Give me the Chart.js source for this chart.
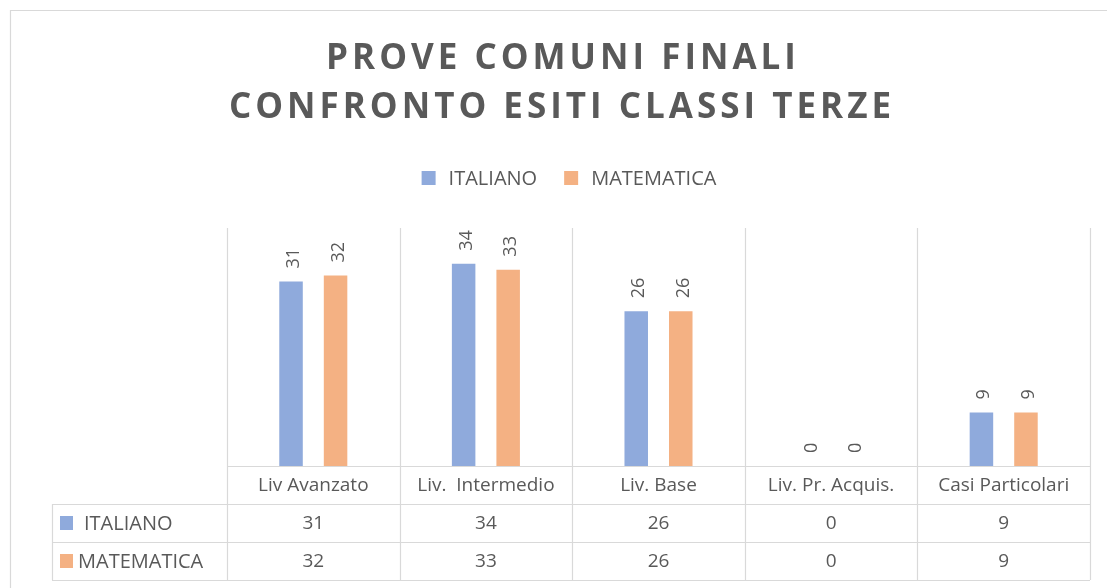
<!DOCTYPE html>
<html>
<head>
<meta charset="utf-8">
<script src="https://cdn.jsdelivr.net/npm/chart.js@4"></script>
<style>
  html, body { margin: 0; padding: 0; background: #ffffff; }
  #wrap { width: 1107px; height: 588px; position: relative; }
</style>
</head>
<body>
<div id="wrap"><canvas id="chart" width="1107" height="588"></canvas></div>
<script>
/* ---- dati ---- */
var categories = ['Liv Avanzato', 'Liv.  Intermedio', 'Liv. Base', 'Liv. Pr. Acquis.', 'Casi Particolari'];
var italiano = [31, 34, 26, 0, 9];
var matematica = [32, 33, 26, 0, 9];
var seriesNames = ['ITALIANO', 'MATEMATICA'];
var titleLines = ['PROVE COMUNI FINALI', 'CONFRONTO ESITI CLASSI TERZE'];
var yMax = 40;

(function() {
    'use strict';

    var TEXT = '#595959';
    var LINE = '#d9d9d9';
    var FONT = "'Open Sans', 'Noto Sans', sans-serif";
    var ROW_H = 38;   // altezza righe tabella dati
    var TABLE_LEFT = 52;

    /* ---- griglia + tabella dati sotto il grafico ---- */
    var tablePlugin = {
        id: 'dataTable',
        beforeDatasetsDraw: function(chart) {
            var ctx = chart.ctx;
            var area = chart.chartArea;
            var x = chart.scales.x;
            var step = (area.right - area.left) / categories.length;
            var bottom = area.bottom + ROW_H * 3;

            ctx.save();
            ctx.strokeStyle = LINE;
            ctx.lineWidth = 1.2;

            // bordo esterno del grafico
            ctx.beginPath();
            ctx.moveTo(10.5, 600);
            ctx.lineTo(10.5, 10.5);
            ctx.lineTo(1120, 10.5);
            ctx.stroke();

            // separatori verticali tra categorie
            ctx.beginPath();
            for (var i = 0; i <= categories.length; i++) {
                var bx = Math.round(area.left + step * i) + 0.5;
                ctx.moveTo(bx, area.top);
                ctx.lineTo(bx, bottom);
            }
            // colonna intestazioni serie
            ctx.moveTo(TABLE_LEFT + 0.5, area.bottom + ROW_H);
            ctx.lineTo(TABLE_LEFT + 0.5, bottom);
            // righe orizzontali
            ctx.moveTo(area.left, Math.round(area.bottom) + 0.5);
            ctx.lineTo(area.right, Math.round(area.bottom) + 0.5);
            for (var r = 1; r <= 3; r++) {
                var ry = Math.round(area.bottom + ROW_H * r) + 0.5;
                ctx.moveTo(TABLE_LEFT, ry);
                ctx.lineTo(area.right, ry);
            }
            ctx.stroke();

            // etichette categorie + valori
            ctx.fillStyle = TEXT;
            ctx.textAlign = 'center';
            ctx.textBaseline = 'middle';
            ctx.font = '19px ' + FONT;
            categories.forEach(function(cat, i) {
                var cx = x.getPixelForValue(i);
                ctx.fillText(cat, cx, area.bottom + ROW_H * 0.5 + 1);
                chart.data.datasets.forEach(function(ds, d) {
                    ctx.fillText(String(ds.data[i]), cx, area.bottom + ROW_H * (d + 1.5) + 1);
                });
            });

            // intestazioni serie con quadratino colore
            ctx.textAlign = 'left';
            ctx.font = '20px ' + FONT;
            chart.data.datasets.forEach(function(ds, d) {
                var cy = area.bottom + ROW_H * (d + 1.5);
                ctx.fillStyle = ds.backgroundColor;
                ctx.fillRect(60, cy - 7, 13, 14);
                ctx.fillStyle = TEXT;
                ctx.fillText(ds.label, d === 0 ? 84 : 78, cy + 1);
            });
            ctx.restore();
        },

        /* etichette valori ruotate sopra le barre */
        afterDatasetsDraw: function(chart) {
            var ctx = chart.ctx;
            ctx.save();
            ctx.fillStyle = TEXT;
            ctx.font = '18px ' + FONT;
            ctx.textAlign = 'left';
            ctx.textBaseline = 'alphabetic';
            chart.data.datasets.forEach(function(ds, d) {
                chart.getDatasetMeta(d).data.forEach(function(bar, i) {
                    ctx.save();
                    ctx.translate(bar.x + 8, bar.y - 13);
                    ctx.rotate(-Math.PI / 2);
                    ctx.fillText(String(ds.data[i]), 0, 0);
                    ctx.restore();
                });
            });
            ctx.restore();
        },

        /* titolo spaziato + legenda */
        afterDraw: function(chart) {
            var ctx = chart.ctx;
            var cx = 561;
            ctx.save();
            ctx.fillStyle = TEXT;
            ctx.textAlign = 'center';
            ctx.textBaseline = 'middle';
            ctx.font = 'bold 35px ' + FONT;
            ctx.letterSpacing = '4px';
            ctx.fillText(titleLines[0], cx + 2, 59);
            ctx.fillText(titleLines[1], cx + 1, 108);
            ctx.letterSpacing = '0px';

            // legenda
            ctx.font = '20px ' + FONT;
            ctx.textAlign = 'left';
            var items = chart.data.datasets;
            var gap = 27, box = 14, pad = 13;
            var total = 0;
            items.forEach(function(ds, d) {
                total += box + pad + ctx.measureText(ds.label).width + (d < items.length - 1 ? gap : 0);
            });
            var lx = 569 - total / 2;
            var ly = 178;
            items.forEach(function(ds) {
                ctx.fillStyle = ds.backgroundColor;
                ctx.fillRect(lx, ly - 7, box, box);
                lx += box + pad;
                ctx.fillStyle = TEXT;
                ctx.fillText(ds.label, lx, ly + 1);
                lx += ctx.measureText(ds.label).width + gap;
            });
            ctx.restore();
        }
    };

    new Chart(document.getElementById('chart'), {
        type: 'bar',
        data: {
            labels: categories,
            datasets: [
                {
                    label: seriesNames[0],
                    data: italiano,
                    backgroundColor: '#8faadc',
                    categoryPercentage: 0.516,
                    barPercentage: 0.528
                },
                {
                    label: seriesNames[1],
                    data: matematica,
                    backgroundColor: '#f4b183',
                    categoryPercentage: 0.516,
                    barPercentage: 0.528
                }
            ]
        },
        options: {
            responsive: false,
            animation: false,
            layout: { padding: { left: 227, right: 17, top: 228, bottom: 122 } },
            plugins: {
                legend: { display: false },
                title: { display: false },
                tooltip: { enabled: false }
            },
            scales: {
                x: { display: false },
                y: { display: false, min: 0, max: yMax }
            }
        },
        plugins: [tablePlugin]
    });
})();
</script>
</body>
</html>
